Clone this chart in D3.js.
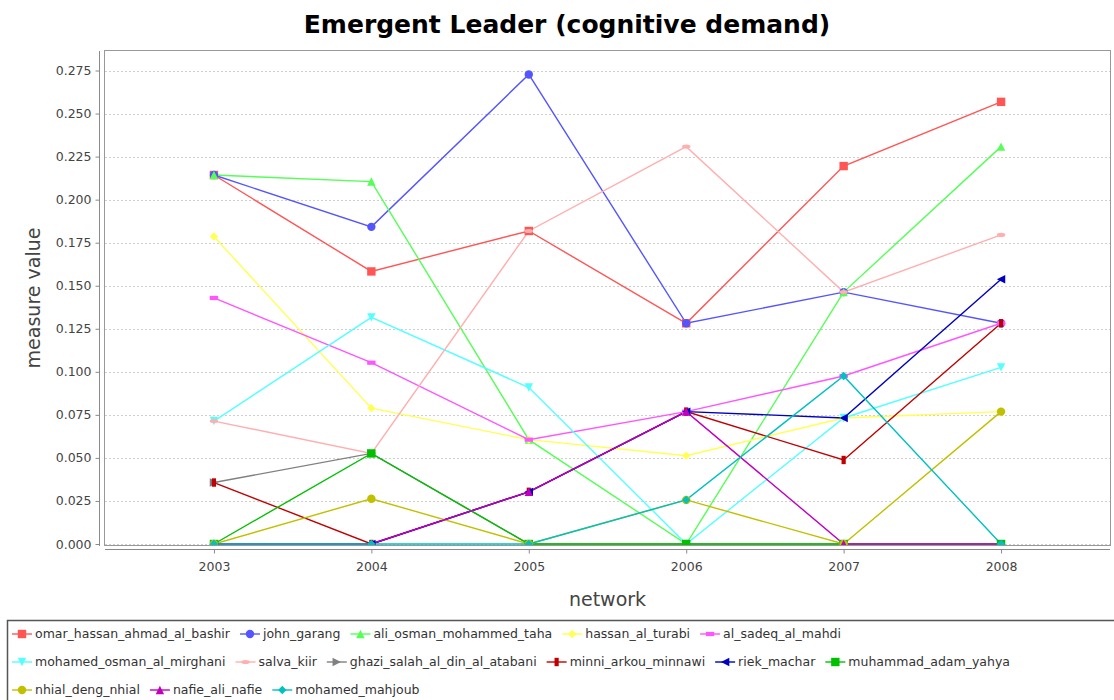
<!DOCTYPE html>
<html>
<head>
<meta charset="utf-8">
<script src="https://cdn.jsdelivr.net/npm/d3@7"></script>
<style>
  html, body { margin: 0; padding: 0; background: #fff; }
  svg { display: block; }
  text { font-family: "DejaVu Sans", Verdana, sans-serif; }
</style>
</head>
<body>
<svg id="chart" width="1114" height="700"></svg>
<script>
// ---------- data ----------
const years = ["2003", "2004", "2005", "2006", "2007", "2008"];
const seriesNames = [
  "omar_hassan_ahmad_al_bashir", "john_garang", "ali_osman_mohammed_taha",
  "hassan_al_turabi", "al_sadeq_al_mahdi", "mohamed_osman_al_mirghani",
  "salva_kiir", "ghazi_salah_al_din_al_atabani", "minni_arkou_minnawi",
  "riek_machar", "muhammad_adam_yahya", "nhial_deng_nhial",
  "nafie_ali_nafie", "mohamed_mahjoub"
];
const omarHassanAhmadAlBashir = [0.2143, 0.1583, 0.1818, 0.1282, 0.2195, 0.2568];
const johnGarang              = [0.2143, 0.1842, 0.2727, 0.1282, 0.1463, 0.1282];
const aliOsmanMohammedTaha    = [0.2143, 0.2105, 0.0606, 0.0000, 0.1463, 0.2308];
const hassanAlTurabi          = [0.1786, 0.0789, 0.0606, 0.0513, 0.0732, 0.0769];
const alSadeqAlMahdi          = [0.1429, 0.1053, 0.0606, 0.0769, 0.0976, 0.1282];
const mohamedOsmanAlMirghani  = [0.0714, 0.1316, 0.0909, 0.0000, 0.0732, 0.1026];
const salvaKiir               = [0.0714, 0.0526, 0.1818, 0.2308, 0.1463, 0.1795];
const ghaziSalahAlDinAlAtabani= [0.0357, 0.0526, 0.0000, 0.0000, 0.0000, 0.0000];
const minniArkouMinnawi       = [0.0357, 0.0000, 0.0303, 0.0769, 0.0488, 0.1282];
const riekMachar              = [0.0000, 0.0000, 0.0303, 0.0769, 0.0732, 0.1538];
const muhammadAdamYahya       = [0.0000, 0.0526, 0.0000, 0.0000, 0.0000, 0.0000];
const nhialDengNhial          = [0.0000, 0.0263, 0.0000, 0.0256, 0.0000, 0.0769];
const nafieAliNafie           = [0.0000, 0.0000, 0.0303, 0.0769, 0.0000, 0.0000];
const mohamedMahjoub          = [0.0000, 0.0000, 0.0000, 0.0256, 0.0976, 0.0000];
const yTickValues = [0, 0.025, 0.05, 0.075, 0.1, 0.125, 0.15, 0.175, 0.2, 0.225, 0.25, 0.275];

const seriesValues = [
  omarHassanAhmadAlBashir, johnGarang, aliOsmanMohammedTaha, hassanAlTurabi,
  alSadeqAlMahdi, mohamedOsmanAlMirghani, salvaKiir, ghaziSalahAlDinAlAtabani,
  minniArkouMinnawi, riekMachar, muhammadAdamYahya, nhialDengNhial,
  nafieAliNafie, mohamedMahjoub
];

// ---------- styles ----------
const colors = ["#FF5555", "#5555FF", "#55FF55", "#FFFF55", "#FF55FF", "#55FFFF",
  "#FFAFAF", "#808080", "#C00000", "#0000C0", "#00C000", "#C0C000", "#C000C0", "#00C0C0"];
const shapes = ["square", "circle", "triUp", "diamond", "hrect", "triDown",
  "hellipse", "triRight", "vrect", "triLeft", "square", "circle", "triUp", "diamond"];
const legendRowBreaks = [5, 11]; // item index where a new legend row starts

const series = seriesNames.map((name, i) => ({
  name, color: colors[i], shape: shapes[i],
  values: years.map((y, j) => ({ year: y, value: seriesValues[i][j] }))
}));

// ---------- layout ----------
const plot = { left: 105, right: 1110, top: 51, bottom: 545 };
const svg = d3.select("#chart");

const x = d3.scalePoint().domain(years).range([plot.left, plot.right]).padding(0.692);
const yMax = d3.max(seriesValues.flat()) * 1.05;
const y = d3.scaleLinear().domain([0, yMax]).range([plot.bottom - 1, plot.top]);

// title
svg.append("text")
  .attr("x", 567).attr("y", 33)
  .attr("text-anchor", "middle")
  .attr("font-size", 25).attr("font-weight", "bold").attr("fill", "#000")
  .text("Emergent Leader (cognitive demand)");

// plot background
svg.append("rect")
  .attr("x", plot.left).attr("y", plot.top)
  .attr("width", plot.right - plot.left).attr("height", plot.bottom - plot.top)
  .attr("fill", "#fff");

// gridlines
svg.append("g").selectAll("line").data(yTickValues).join("line")
  .attr("x1", plot.left).attr("x2", plot.right)
  .attr("y1", d => Math.round(y(d)) + 0.5).attr("y2", d => Math.round(y(d)) + 0.5)
  .attr("stroke", "#cfcfcf").attr("stroke-width", 1).attr("stroke-dasharray", "2,2");

// y axis
const yAxis = d3.axisLeft(y).tickValues(yTickValues).tickFormat(d3.format(".3f"))
  .tickSize(4).tickPadding(4);
const gy = svg.append("g").attr("transform", `translate(${plot.left - 5.5},0)`).call(yAxis);
gy.select(".domain").attr("stroke", "#8a8a8a").attr("d", `M0,${plot.top}V${plot.bottom + 1}`);
gy.selectAll(".tick line").attr("stroke", "#8a8a8a");
gy.selectAll(".tick text").attr("font-size", 12.5).attr("fill", "#444")
  .attr("font-family", "DejaVu Sans");

// x axis
const xAxis = d3.axisBottom(x).tickSize(4).tickPadding(9);
const gx = svg.append("g").attr("transform", `translate(0,${plot.bottom + 4.5})`).call(xAxis);
gx.select(".domain").attr("stroke", "#8a8a8a").attr("d", `M${plot.left},0H${plot.right}`);
gx.selectAll(".tick line").attr("stroke", "#8a8a8a");
gx.selectAll(".tick text").attr("font-size", 12.5).attr("fill", "#444")
  .attr("font-family", "DejaVu Sans");

// axis labels
svg.append("text")
  .attr("transform", `translate(40,${(plot.top + plot.bottom) / 2}) rotate(-90)`)
  .attr("text-anchor", "middle").attr("font-size", 19).attr("fill", "#444")
  .text("measure value");
svg.append("text")
  .attr("x", (plot.left + plot.right) / 2).attr("y", 606)
  .attr("text-anchor", "middle").attr("font-size", 19).attr("fill", "#444")
  .text("network");

// clip
svg.append("clipPath").attr("id", "plotclip").append("rect")
  .attr("x", plot.left).attr("y", plot.top)
  .attr("width", plot.right - plot.left).attr("height", plot.bottom - plot.top);

const hs = 4.2;
function shapePath(t, s) {
  switch (t) {
    case "square": return `M${-s},${-s}H${s}V${s}H${-s}Z`;
    case "circle": return `M${-s},0A${s},${s} 0 1,0 ${s},0A${s},${s} 0 1,0 ${-s},0Z`;
    case "triUp": return `M0,${-s}L${s},${s}L${-s},${s}Z`;
    case "diamond": return `M0,${-s}L${s},0L0,${s}L${-s},0Z`;
    case "hrect": return `M${-s},${-s / 2}H${s}V${s / 2}H${-s}Z`;
    case "triDown": return `M${-s},${-s}L${s},${-s}L0,${s}Z`;
    case "hellipse": return `M${-s},0A${s},${s / 2} 0 1,0 ${s},0A${s},${s / 2} 0 1,0 ${-s},0Z`;
    case "triRight": return `M${-s},${-s}L${s},0L${-s},${s}Z`;
    case "vrect": return `M${-s / 2},${-s}H${s / 2}V${s}H${-s / 2}Z`;
    case "triLeft": return `M${s},${-s}L${-s},0L${s},${s}Z`;
  }
}

const gData = svg.append("g").attr("clip-path", "url(#plotclip)");
const line = d3.line().x(d => x(d.year)).y(d => y(d.value));
gData.append("g").selectAll("path").data(series).join("path")
  .attr("d", d => line(d.values))
  .attr("fill", "none").attr("stroke", d => d.color).attr("stroke-width", 1.4);
const gm = gData.append("g");
series.forEach(s => {
  gm.append("g").selectAll("path").data(s.values).join("path")
    .attr("transform", d => `translate(${x(d.year)},${y(d.value)})`)
    .attr("d", shapePath(s.shape, hs)).attr("fill", s.color);
});

// plot outline
svg.append("rect")
  .attr("x", plot.left - 0.5).attr("y", plot.top - 0.5)
  .attr("width", plot.right - plot.left + 1).attr("height", plot.bottom - plot.top + 1)
  .attr("fill", "none").attr("stroke", "#999").attr("stroke-width", 1);

// legend
svg.append("rect").attr("x", 7.5).attr("y", 620.5).attr("width", 1130).attr("height", 120)
  .attr("fill", "#fff").attr("stroke", "#555").attr("stroke-width", 1.5);
const lg = svg.append("g");
let lx = 12, row = 0;
const rowY = [634, 662, 690];
series.forEach((s, i) => {
  if (legendRowBreaks.includes(i)) { row++; lx = 12; }
  const cy = rowY[row];
  const it = lg.append("g").attr("transform", `translate(${lx},${cy})`);
  it.append("line").attr("x1", 0).attr("x2", 20).attr("y1", 0).attr("y2", 0)
    .attr("stroke", s.color).attr("stroke-width", 1.4);
  it.append("path").attr("transform", "translate(10,0)").attr("d", shapePath(s.shape, hs)).attr("fill", s.color);
  const t = it.append("text").attr("x", 23).attr("y", 0).attr("dy", "0.35em")
    .attr("font-size", 12.5).attr("fill", "#333").text(s.name);
  lx += 23 + t.node().getComputedTextLength() + 10;
});
</script>
</body>
</html>
